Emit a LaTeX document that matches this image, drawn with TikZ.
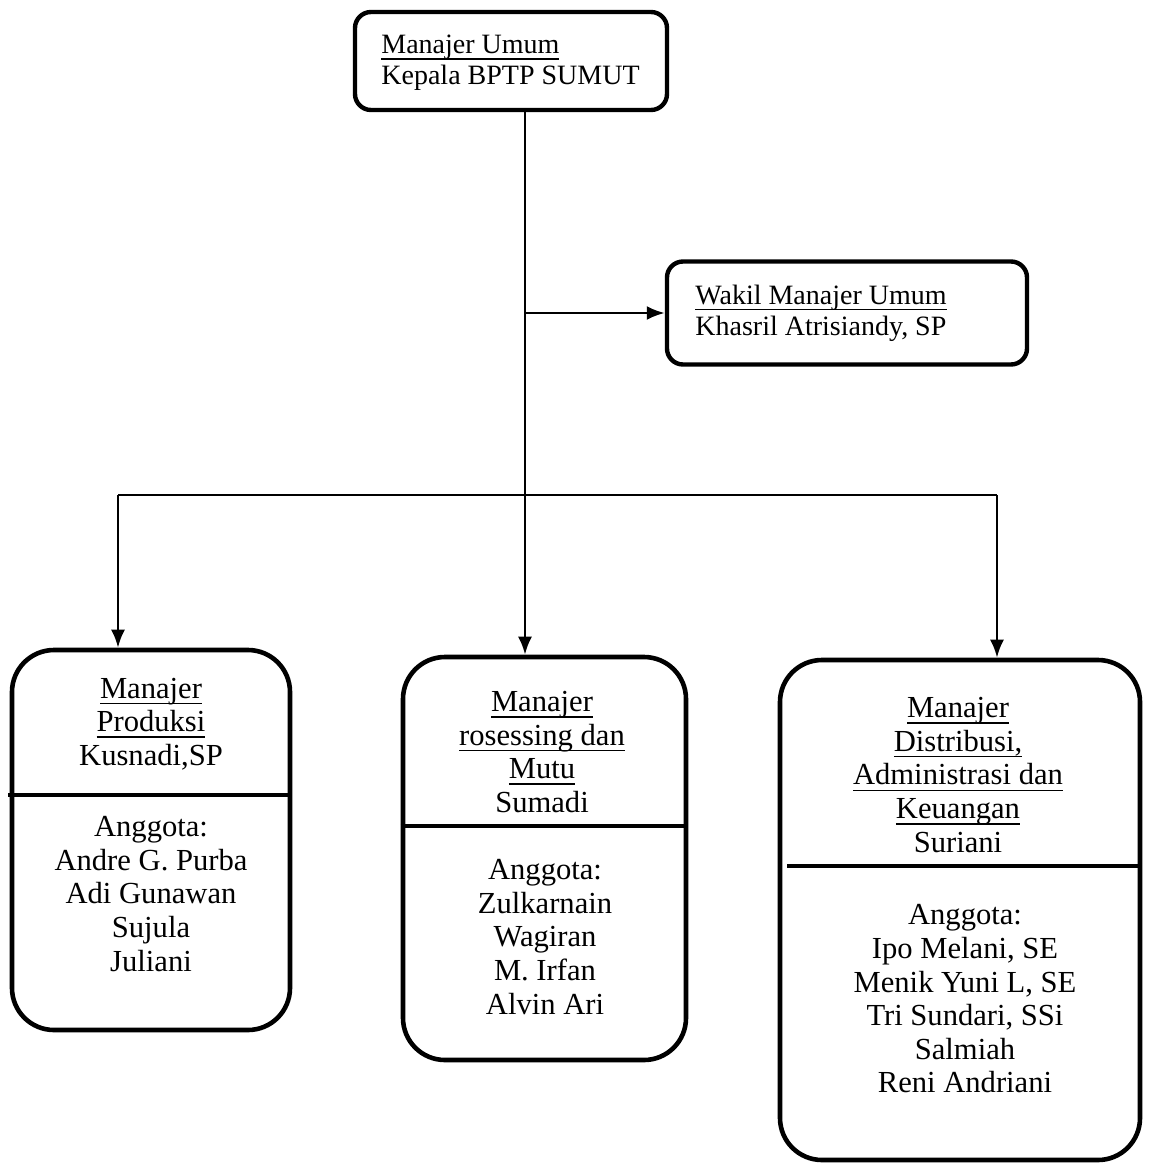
\documentclass[tikz,border=0pt]{standalone}
\usepackage{fontspec}
\setmainfont{Liberation Serif}
\newsavebox\ulbox
\newcommand\myul[1]{\sbox\ulbox{#1}\rlap{\vrule width\wd\ulbox height -2.3pt depth 3.0pt}\usebox\ulbox}
\usetikzlibrary{arrows.meta}
\tikzset{
  boxtop/.style={draw, line width=2.2pt, rounded corners=8pt, inner sep=0pt},
  boxbig/.style={draw, line width=2.3pt, rounded corners=21pt, inner sep=0pt},
  divider/.style={line width=2pt},
  conn/.style={line width=1.3pt},
  arr/.style={conn, -{Latex[length=9pt,width=7pt]}},
  toptxt/.style={font=\fontsize{14}{15.5}\selectfont, align=left, inner sep=0pt, anchor=west},
  boxtxt/.style={font=\fontsize{15.3}{16.8}\selectfont, align=center, inner sep=0pt},
}
\begin{document}
\begin{tikzpicture}[x=0.5pt,y=-0.5pt]
\useasboundingbox (0,0) rectangle (1164,1167);
% top boxes
\node[boxtop, minimum width=156pt, minimum height=49pt] (mu) at (511,61) {};
\node[toptxt] (mut) at (381,63) {\myul{Manajer Umum}\\Kepala BPTP SUMUT};
\node[boxtop, minimum width=180pt, minimum height=51.5pt] (wk) at (847,313) {};
\node[toptxt] (wkt) at (695,313) {\myul{Wakil Manajer Umum}\\Khasril Atrisiandy, SP};
% lower boxes
\node[boxbig, minimum width=139pt, minimum height=190pt] (prod) at (151,840) {};
\node[boxbig, minimum width=141.5pt, minimum height=201.5pt] (mid) at (544.5,858.5) {};
\node[boxbig, minimum width=180pt, minimum height=250pt] (dist) at (960,910) {};
% dividers
\coordinate (d1) at (8,795);
\coordinate (d2) at (0,826);
\coordinate (d3) at (787,866);
\draw[divider] (d1) -- (prod.east |- d1);
\draw[divider] (mid.west |- d2) -- (mid.east |- d2);
\draw[divider] (d3) -- (dist.east |- d3);
% texts
\node[boxtxt] (prodh) at (151,724) {\myul{Manajer}\\\myul{Produksi}\\Kusnadi,SP};
\node[boxtxt] (prodm) at (151,894) {Anggota:\\Andre G. Purba\\Adi Gunawan\\Sujula\\Juliani};
\node[boxtxt] (midh) at (542,752) {\myul{Manajer}\\\myul{rosessing dan}\\\myul{Mutu}\\Sumadi};
\node[boxtxt] (midm) at (545,937) {Anggota:\\Zulkarnain\\Wagiran\\M. Irfan\\Alvin Ari};
\node[boxtxt] (disth) at (958,775) {\myul{Manajer}\\\myul{Distribusi,}\\\myul{Administrasi dan}\\\myul{Keuangan}\\Suriani};
\node[boxtxt] (distm) at (965,999) {Anggota:\\Ipo Melani, SE\\Menik Yuni L, SE\\Tri Sundari, SSi\\Salmiah\\Reni Andriani};
% connectors
\coordinate (trunk) at (525,0);
\coordinate (busL) at (118,495);
\coordinate (busR) at (997,495);
\draw[arr] (mu.south -| trunk) -- (mid.north -| trunk);
\draw[arr] (trunk |- wk.west) -- (wk.west);
\draw[conn] (busL) -- (busR);
\draw[arr] (busL) -- (prod.north -| busL);
\draw[arr] (busR) -- (dist.north -| busR);
\end{tikzpicture}
\end{document}
